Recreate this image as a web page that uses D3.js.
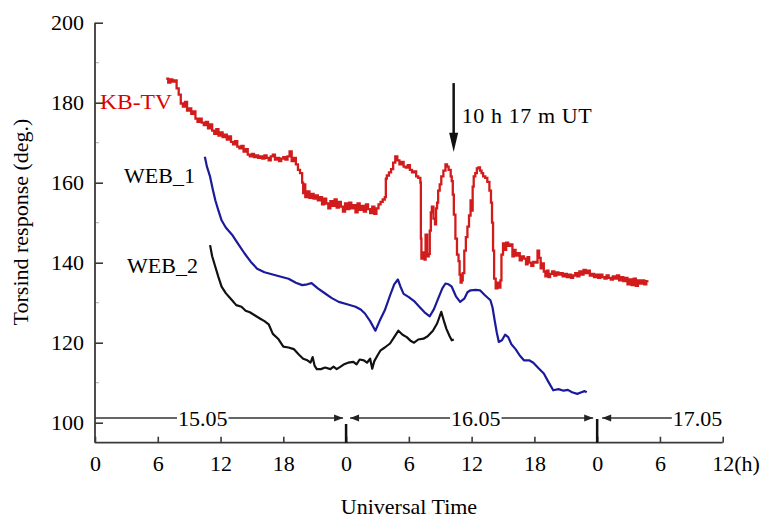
<!DOCTYPE html>
<html>
<head>
<meta charset="utf-8">
<script src="https://cdn.jsdelivr.net/npm/d3@7"></script>
<style>
  html, body { margin: 0; padding: 0; background: #fff; }
  svg { display: block; }
  text { font-family: "Liberation Serif", "Times New Roman", serif; }
</style>
</head>
<body>
<div id="chart"></div>
<script>
// ---------------- DATA ----------------
const seriesNames = ["KB-TV", "WEB_1", "WEB_2"];

// KB-TV : [hour since 15.05 00 UT, torsind response deg.]
const kbtv = [
 [6.8,186.0],[7.0,185.0],[7.2,185.8],[7.4,185.3],[7.6,185.6],[7.8,183.6],[8.0,182.0],[8.2,179.8],[8.4,179.0],[8.6,180.2],
 [8.8,178.0],[9.0,178.6],[9.2,177.2],[9.4,177.8],[9.6,176.0],[9.8,175.2],[10.0,176.0],[10.2,175.0],[10.4,174.4],[10.6,175.2],
 [10.8,173.6],[11.0,174.6],[11.2,173.0],[11.4,172.2],[11.6,173.4],[11.8,171.8],[12.0,172.6],[12.2,171.4],[12.4,172.0],[12.6,170.8],
 [12.8,171.6],[13.0,170.2],[13.2,169.6],[13.4,170.4],[13.6,169.0],[13.8,168.6],[14.0,169.2],[14.2,167.8],[14.4,168.4],[14.6,167.0],
 [14.8,166.6],[15.0,167.2],[15.2,166.4],[15.4,166.8],[15.6,166.2],[15.8,166.6],[16.0,166.0],[16.2,166.8],[16.4,166.2],[16.6,165.6],
 [16.8,166.6],[17.0,167.0],[17.2,165.8],[17.4,166.2],[17.6,165.4],[17.8,166.0],[18.0,166.4],[18.2,165.8],[18.4,166.6],[18.6,167.8],
 [18.8,165.4],[19.0,166.2],[19.2,164.6],[19.4,163.2],[19.6,162.4],[19.8,160.0],[19.9,157.4],[20.0,159.6],[20.1,156.4],[20.3,157.8],
 [20.5,156.2],[20.7,157.2],[20.9,156.0],[21.1,156.8],[21.3,155.6],[21.5,156.4],[21.7,154.6],[21.9,156.0],[22.1,154.8],[22.3,153.6],
 [22.5,155.4],[22.7,154.2],[22.9,155.8],[23.1,153.8],[23.3,155.2],[23.5,154.0],[23.7,152.8],[23.9,154.8],[24.1,153.4],[24.3,155.0],
 [24.5,153.6],[24.7,154.4],[24.9,152.6],[25.1,154.8],[25.3,153.2],[25.5,154.2],[25.7,152.8],[25.9,154.6],[26.1,153.4],[26.3,152.4],
 [26.5,154.0],[26.7,152.2],[26.9,153.6],[27.1,154.6],[27.3,155.2],[27.5,155.8],[27.7,156.4],
 [27.8,161.0],[27.9,161.8],[28.1,162.6],[28.3,163.4],[28.5,165.0],[28.7,166.6],[28.9,165.6],[29.1,164.6],[29.3,165.2],[29.5,164.0],
 [29.7,163.8],[29.9,164.4],[30.1,163.2],[30.3,162.6],[30.5,162.8],[30.7,161.6],[30.9,161.2],[31.1,160.0],
 [31.15,146.0],[31.2,141.0],[31.35,142.6],[31.5,140.8],[31.6,147.0],[31.75,141.6],[31.9,142.2],[32.0,148.0],[32.1,152.6],[32.2,154.0],
 [32.35,151.0],[32.5,149.6],[32.6,153.6],[32.7,155.0],[32.8,158.0],[32.95,159.6],[33.1,161.6],[33.3,163.0],[33.5,164.6],[33.65,164.0],
 [33.8,163.2],[34.0,161.6],[34.1,160.4],[34.2,157.0],[34.3,152.0],[34.45,146.0],[34.6,142.0],[34.75,140.4],[34.85,137.0],[34.95,135.0],
 [35.05,135.6],[35.15,137.4],[35.3,143.0],[35.45,146.4],[35.6,149.0],[35.75,151.8],[35.9,155.6],[36.0,153.0],[36.1,159.0],[36.2,161.6],
 [36.35,162.4],[36.5,163.6],[36.65,163.8],[36.8,163.0],[36.95,162.4],[37.1,161.6],[37.3,161.2],[37.5,160.2],[37.7,158.0],[37.85,155.0],
 [37.95,150.0],[38.05,143.0],[38.15,136.0],[38.3,133.6],[38.45,135.0],[38.6,133.8],[38.75,135.6],[38.85,142.0],[39.0,144.8],[39.15,143.2],
 [39.3,145.0],[39.5,144.2],[39.7,144.6],[39.9,141.6],[40.05,143.2],[40.2,141.8],[40.4,142.4],[40.6,140.6],[40.8,141.6],[41.0,141.0],
 [41.2,139.6],[41.35,141.4],[41.5,140.0],[41.7,139.2],[41.9,140.2],[42.1,140.0],[42.3,143.0],[42.45,141.2],[42.6,138.6],[42.75,139.8],
 [42.9,137.8],[43.05,136.6],[43.2,138.0],[43.35,136.4],[43.5,137.2],[43.7,137.8],[43.9,136.8],[44.1,137.6],[44.3,137.0],[44.5,137.4],
 [44.7,136.6],[44.9,137.2],[45.1,136.4],[45.3,137.0],[45.5,136.2],[45.7,136.8],[45.9,137.4],[46.1,136.6],[46.3,137.8],[46.5,137.0],
 [46.7,138.2],[46.9,137.4],[47.1,138.0],[47.3,136.8],[47.5,137.2],[47.7,136.4],[47.9,137.0],[48.1,136.2],[48.3,137.0],[48.5,136.4],
 [48.7,136.0],[48.9,136.8],[49.1,136.2],[49.3,135.8],[49.5,136.6],[49.7,136.0],[49.9,136.8],[50.1,135.6],[50.3,136.4],[50.5,135.4],
 [50.7,136.2],[50.9,134.6],[51.1,135.8],[51.3,134.4],[51.5,136.0],[51.7,134.2],[51.9,135.6],[52.1,134.8],[52.3,135.6],[52.5,134.6],
 [52.7,135.4],[52.8,135.6]
];

const web1 = [
 [10.5,166.5],[10.7,164.0],[11.0,161.5],[11.25,158.4],[11.5,155.6],[11.8,153.0],[12.1,150.6],[12.5,148.8],[13.1,147.0],[13.6,145.0],
 [14.3,142.3],[14.9,140.2],[15.5,138.5],[16.2,137.6],[16.9,137.1],[17.6,136.6],[18.5,136.0],[19.2,135.0],[19.8,134.4],[20.3,134.6],
 [20.7,134.9],[21.3,133.6],[22.0,132.3],[22.6,131.2],[23.3,130.2],[24.1,129.6],[24.9,129.0],[25.4,128.3],[25.8,127.3],[26.3,125.4],
 [26.8,123.0],[27.2,125.4],[27.7,128.1],[28.2,131.8],[28.6,134.6],[28.95,135.8],[29.2,134.0],[29.5,132.2],[30.0,131.4],[30.5,130.4],
 [31.0,129.0],[31.5,127.6],[32.0,126.6],[32.4,128.4],[32.8,131.0],[33.2,133.6],[33.5,134.8],[33.8,134.6],[34.1,134.0],[34.5,131.6],
 [34.9,130.2],[35.3,131.0],[35.6,132.6],[35.9,133.1],[36.4,133.2],[36.8,133.1],[37.3,131.8],[37.8,130.6],[38.0,128.8],[38.2,125.6],
 [38.4,122.6],[38.6,120.2],[38.9,120.6],[39.2,122.0],[39.5,121.4],[39.8,119.6],[40.2,118.4],[40.6,116.8],[41.0,115.6],[41.5,115.6],
 [41.9,115.0],[42.4,113.6],[42.9,112.3],[43.3,110.4],[43.8,108.1],[44.3,108.4],[44.8,108.0],[45.2,108.2],[45.6,107.6],[46.1,107.2],
 [46.5,107.6],[46.8,107.9],[47.0,107.6]
];

const web2 = [
 [11.0,144.4],[11.2,141.6],[11.5,139.0],[11.8,136.4],[12.1,134.0],[12.5,132.4],[13.1,130.6],[13.5,129.4],[14.0,129.0],[14.4,128.0],
 [14.8,127.6],[15.3,126.8],[15.8,126.0],[16.2,125.4],[16.6,124.6],[17.0,122.2],[17.5,121.0],[18.0,119.0],[18.5,118.8],[19.0,118.4],
 [19.5,117.0],[19.9,116.0],[20.3,115.6],[20.6,115.0],[20.8,116.4],[21.0,114.2],[21.2,113.4],[21.6,113.4],[22.0,113.8],[22.5,113.4],
 [22.8,114.0],[23.1,113.4],[23.4,113.9],[23.8,114.6],[24.2,115.0],[24.7,115.2],[25.0,114.6],[25.3,115.8],[25.7,115.6],[26.0,115.0],
 [26.3,116.0],[26.5,113.5],[26.7,115.4],[27.0,116.8],[27.3,118.1],[27.7,118.8],[28.2,119.8],[28.6,121.4],[29.0,123.0],[29.4,122.0],
 [29.8,121.4],[30.2,120.4],[30.5,120.0],[30.9,120.8],[31.4,121.0],[31.8,121.6],[32.3,123.0],[32.7,124.8],[33.1,127.7],[33.4,125.0],
 [33.6,123.4],[33.9,121.6],[34.1,120.6],[34.3,120.8]
];

const yTicks = [100, 120, 140, 160, 180, 200];
const yMinorTicks = [110, 130, 150, 170, 190];
const xTicks = [0, 6, 12, 18, 24, 30, 36, 42, 48, 54, 60];
const xTickLabels = ["0", "6", "12", "18", "0", "6", "12", "18", "0", "6", "12"];
const dayLabels = ["15.05", "16.05", "17.05"];
const dayBoundaries = [24, 48];
const eventHour = 24 + 10 + 17 / 60;
const eventLabel = "10 h 17 m UT";
const xTitle = "Universal Time";
const yTitle = "Torsind response (deg.)";

// ---------------- CHART ----------------
const W = 762, H = 521;
const svg = d3.select("#chart").append("svg").attr("width", W).attr("height", H);
svg.append("rect").attr("width", W).attr("height", H).attr("fill", "#fff");

const x = d3.scaleLinear().domain([0, 60]).range([95, 722.7]);
const y = d3.scaleLinear().domain([95, 200]).range([442.7, 22.7]);
const axisColor = "#3a3a3a";
const FS = 22;

// Y axis
const yAxis = d3.axisLeft(y).tickValues(yTicks).tickSizeInner(-8).tickSizeOuter(0).tickPadding(11);
const gy = svg.append("g").attr("transform", `translate(${x(0)},0)`).call(yAxis);
gy.select(".domain").remove();
gy.selectAll(".tick line").attr("stroke", axisColor).attr("stroke-width", 1.6);
gy.selectAll(".tick text").attr("font-size", FS).attr("fill", "#000")
  .attr("font-family", "Liberation Serif, Times New Roman, serif").attr("dy", "0.33em");
svg.append("g").selectAll("line").data(yMinorTicks).join("line")
  .attr("x1", x(0)).attr("x2", x(0) + 4).attr("y1", d => y(d)).attr("y2", d => y(d))
  .attr("stroke", "#aaa").attr("stroke-width", 1);
svg.append("line").attr("x1", x(0)).attr("x2", x(0)).attr("y1", y(200)).attr("y2", y(95))
  .attr("stroke", axisColor).attr("stroke-width", 1.8);

// X axis
const xAxis = d3.axisBottom(x).tickValues(xTicks).tickSizeInner(-6).tickSizeOuter(0).tickPadding(13)
  .tickFormat((d, i) => xTickLabels[i]);
const gx = svg.append("g").attr("transform", `translate(0,${y(95)})`).call(xAxis);
gx.select(".domain").remove();
gx.selectAll(".tick line").attr("stroke", axisColor).attr("stroke-width", 1.6);
gx.selectAll(".tick text").attr("font-size", FS).attr("fill", "#000")
  .attr("font-family", "Liberation Serif, Times New Roman, serif");
gx.selectAll(".tick text").filter((d, i) => i === xTicks.length - 1)
  .attr("text-anchor", "start").attr("x", -11).text(xTickLabels[xTicks.length - 1] + "(h)");
svg.append("line").attr("x1", x(0)).attr("x2", x(60)).attr("y1", y(95)).attr("y2", y(95))
  .attr("stroke", axisColor).attr("stroke-width", 1.8);

// Titles
svg.append("text").attr("x", 409).attr("y", 514).attr("text-anchor", "middle")
  .attr("font-size", FS).attr("fill", "#000").text(xTitle);
svg.append("text").attr("transform", "translate(28,222) rotate(-90)").attr("text-anchor", "middle")
  .attr("font-size", FS).attr("fill", "#000").text(yTitle);

// Day annotations
const annY = 418;
const ann = svg.append("g");
function arrowHead(xTip, dir) {
  ann.append("path")
    .attr("d", `M${xTip},${annY} L${xTip - dir * 9},${annY - 3.5} L${xTip - dir * 9},${annY + 3.5} Z`)
    .attr("fill", "#222");
}
ann.append("line").attr("x1", x(0)).attr("x2", x(dayBoundaries[0]) - 3).attr("y1", annY).attr("y2", annY)
  .attr("stroke", "#333").attr("stroke-width", 1.3);
arrowHead(x(dayBoundaries[0]) - 3, 1);
ann.append("line").attr("x1", x(dayBoundaries[0]) + 4).attr("x2", x(dayBoundaries[1]) - 4).attr("y1", annY).attr("y2", annY)
  .attr("stroke", "#333").attr("stroke-width", 1.3);
arrowHead(x(dayBoundaries[0]) + 4, -1);
arrowHead(x(dayBoundaries[1]) - 4, 1);
ann.append("line").attr("x1", x(dayBoundaries[1]) + 5).attr("x2", 680).attr("y1", annY).attr("y2", annY)
  .attr("stroke", "#333").attr("stroke-width", 1.3);
arrowHead(x(dayBoundaries[1]) + 5, -1);
const dayLabelHours = [10.3, 36.4, 57.6];
const dayTexts = ann.selectAll("text.day").data(dayLabels).join("text").attr("class", "day")
  .attr("x", (d, i) => x(dayLabelHours[i])).attr("y", annY + 7.5).attr("text-anchor", "middle")
  .attr("font-size", FS).attr("fill", "#000")
  .text(d => d);
dayTexts.each(function () {
  const b = this.getBBox();
  ann.insert("rect", "text.day").attr("x", b.x - 1).attr("y", annY - 4).attr("width", b.width + 2).attr("height", 8)
    .attr("fill", "#fff");
});
ann.selectAll("line.bound").data(dayBoundaries).join("line").attr("class", "bound")
  .attr("x1", d => x(d)).attr("x2", d => x(d))
  .attr("y1", (d, i) => i === 0 ? 424 : 419).attr("y2", y(95))
  .attr("stroke", "#111").attr("stroke-width", 2.5);

// Series lines
const line = d3.line().x(d => x(d[0])).y(d => y(d[1]));
svg.append("path").datum(web2).attr("d", line).attr("fill", "none")
  .attr("stroke", "#111").attr("stroke-width", 2.2).attr("stroke-linejoin", "round");
svg.append("path").datum(web1).attr("d", line).attr("fill", "none")
  .attr("stroke", "#1a1a9a").attr("stroke-width", 2.2).attr("stroke-linejoin", "round");
svg.append("path").datum(kbtv).attr("d", line.curve(d3.curveStepAfter)).attr("fill", "none")
  .attr("stroke", "#d21c1c").attr("stroke-width", 2.3).attr("stroke-linejoin", "miter");

// Series labels
svg.append("text").attr("x", 100).attr("y", 109).attr("font-size", FS).attr("fill", "#e00000")
  .attr("textLength", 72).attr("lengthAdjust", "spacingAndGlyphs").text(seriesNames[0]);
svg.append("text").attr("x", 124).attr("y", 183).attr("font-size", FS).attr("fill", "#000").text(seriesNames[1]);
svg.append("text").attr("x", 127).attr("y", 273).attr("font-size", FS).attr("fill", "#000").text(seriesNames[2]);

// Event arrow
const ex = x(eventHour);
svg.append("line").attr("x1", ex).attr("x2", ex).attr("y1", y(184.9)).attr("y2", y(172))
  .attr("stroke", "#111").attr("stroke-width", 2.5);
svg.append("path")
  .attr("d", `M${ex},${y(167.7)} L${ex - 4.5},${y(172.5)} L${ex + 4.5},${y(172.5)} Z`).attr("fill", "#111");
svg.append("text").attr("x", ex + 8).attr("y", 123).attr("font-size", FS).attr("fill", "#000")
  .attr("textLength", 130).attr("lengthAdjust", "spacing").text(eventLabel);
</script>
</body>
</html>
